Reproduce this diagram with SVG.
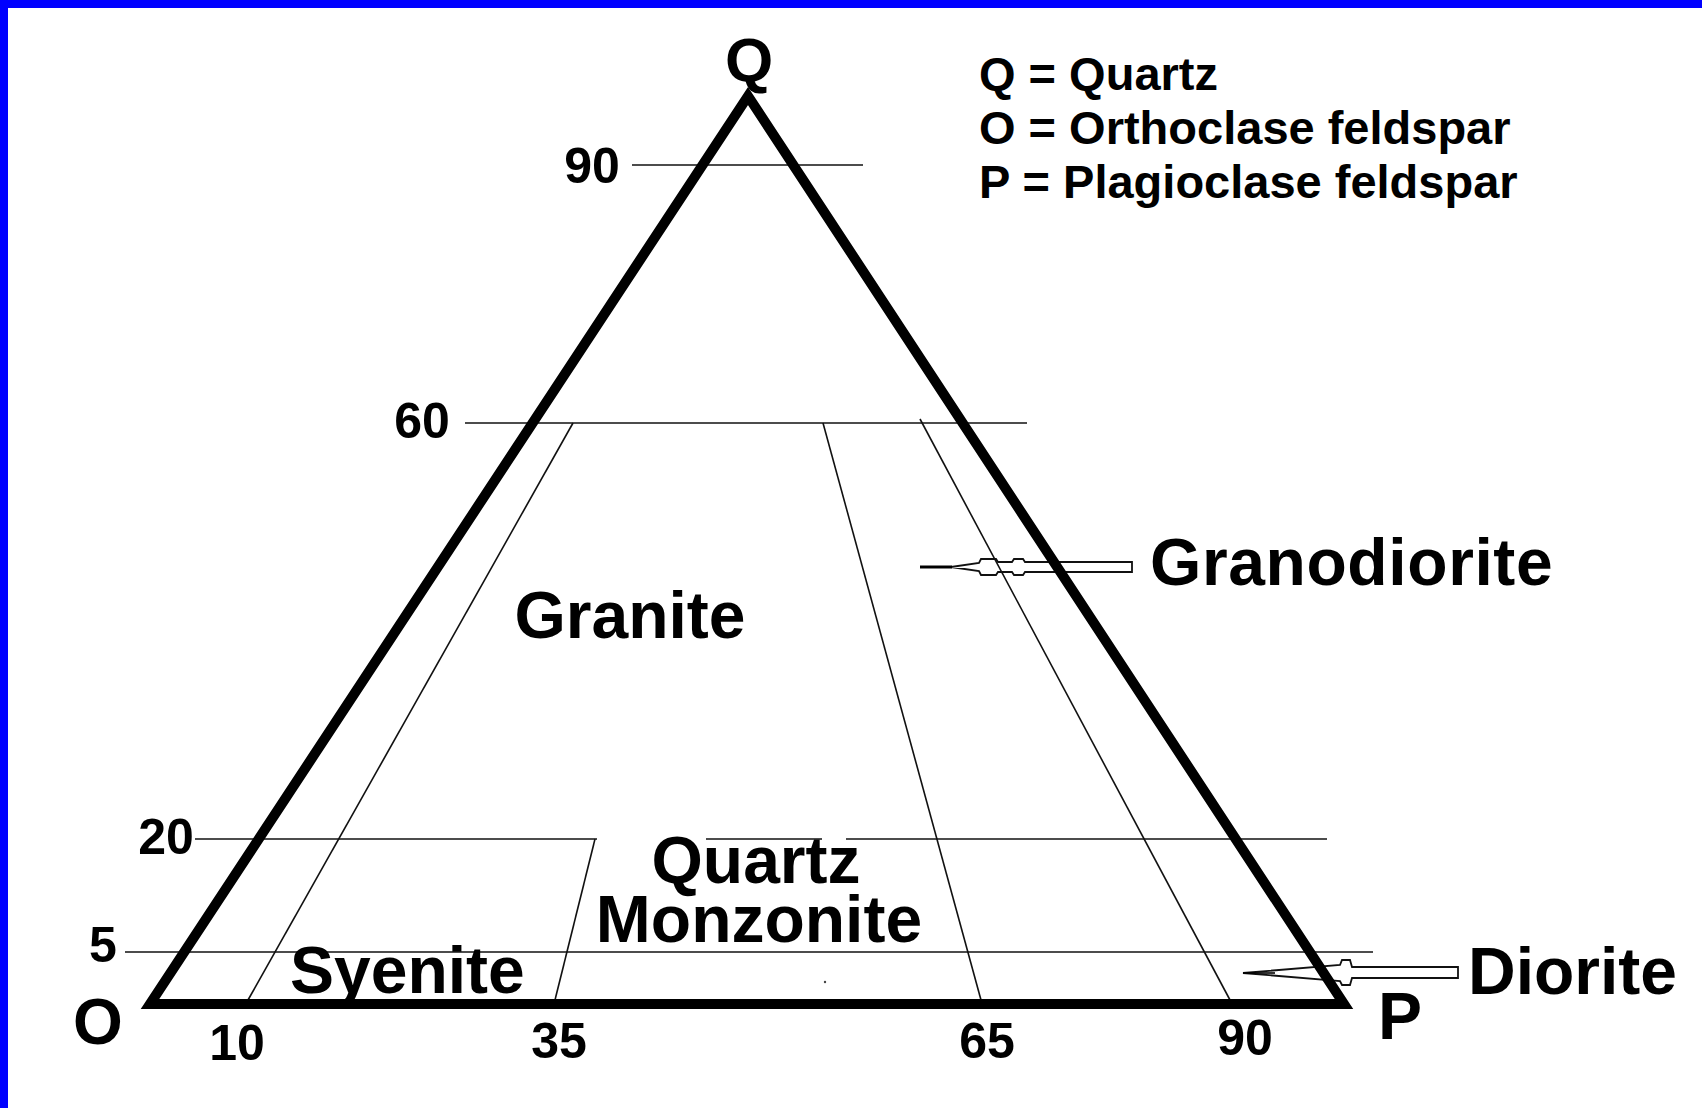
<svg xmlns="http://www.w3.org/2000/svg" width="1702" height="1108" viewBox="0 0 1702 1108">
<style>
.t{font-family:"Liberation Sans",Arial,sans-serif;font-weight:bold;fill:#000}
.num{font-size:50px}
.big{font-size:66px}
.leg{font-size:47px}
.thin{stroke:#111;stroke-width:1.6;fill:none}
.arr{stroke:#111;stroke-width:1.8;fill:#fff;stroke-linejoin:miter}
</style>
<rect x="0" y="0" width="1702" height="1108" fill="#fff"/>
<rect x="0" y="0" width="1702" height="8" fill="#0000ff"/>
<rect x="0" y="0" width="8" height="1108" fill="#0000ff"/>
<g id="connectors">
  <g id="arrows">
    <path class="arr" d="M951,567 L979,563 L981,559 L996,559 L998,562 L1012,562 L1014,559 L1023,559 L1025,562 L1132,562 L1132,572 L1025,572 L1023,575 L1014,575 L1012,572 L998,572 L996,575 L981,575 L979,571 Z"/>
    <line x1="920" y1="567" x2="952" y2="567" stroke="#000" stroke-width="3"/>
    <path class="arr" d="M1243,973 L1340,965 L1342,960 L1350,960 L1352,967 L1458,967 L1458,978 L1352,978 L1350,985 L1342,985 L1340,981 Z"/>
    <line x1="1243" y1="973" x2="1275" y2="973" stroke="#000" stroke-width="1.6"/>
  </g>
  <g id="grid">
    <line class="thin" x1="632" y1="165" x2="863" y2="165"/>
    <line class="thin" x1="465" y1="423" x2="1027" y2="423"/>
    <line class="thin" x1="195" y1="839" x2="597" y2="839"/>
    <line class="thin" x1="706" y1="839" x2="822" y2="839"/>
    <line class="thin" x1="846" y1="839" x2="1327" y2="839"/>
    <line class="thin" x1="125" y1="952" x2="1373" y2="952"/>
    <line class="thin" x1="248" y1="1000" x2="573" y2="423"/>
    <line class="thin" x1="555" y1="1000" x2="595" y2="839"/>
    <line class="thin" x1="981" y1="1000" x2="823" y2="423"/>
    <line class="thin" x1="1230" y1="1000" x2="920" y2="419"/>
  </g>
  <path id="triangle" d="M150,1004 L748,96 L1344,1004 Z" fill="none" stroke="#000" stroke-width="10" stroke-linejoin="miter"/>
  <circle cx="825" cy="982" r="1.2" fill="#444"/>
</g>
<g id="vertex-Q"><text class="t" x="749" y="81" font-size="62" text-anchor="middle">Q</text></g>
<g id="vertex-O"><text class="t" x="98" y="1044" font-size="64" text-anchor="middle">O</text></g>
<g id="vertex-P"><text class="t" x="1378" y="1039" font-size="66">P</text></g>
<g id="legend">
  <text class="t leg" x="979" y="90">Q = Quartz</text>
  <text class="t leg" x="979" y="144">O = Orthoclase feldspar</text>
  <text class="t leg" x="979" y="198">P = Plagioclase feldspar</text>
</g>
<g id="q-scale">
  <text class="t num" x="592" y="183" text-anchor="middle">90</text>
  <text class="t num" x="422" y="438" text-anchor="middle">60</text>
  <text class="t num" x="166" y="854" text-anchor="middle">20</text>
  <text class="t num" x="103" y="962" text-anchor="middle">5</text>
</g>
<g id="p-scale">
  <text class="t num" x="237" y="1060" text-anchor="middle">10</text>
  <text class="t num" x="559" y="1058" text-anchor="middle">35</text>
  <text class="t num" x="987" y="1058" text-anchor="middle">65</text>
  <text class="t num" x="1245" y="1055" text-anchor="middle">90</text>
</g>
<g id="granite"><text class="t big" x="630" y="638" text-anchor="middle">Granite</text></g>
<g id="granodiorite"><text class="t big" x="1150" y="585" letter-spacing="0.6">Granodiorite</text></g>
<g id="quartz-monzonite">
  <text class="t big" x="756" y="883" text-anchor="middle">Quartz</text>
  <text class="t big" x="759" y="942" text-anchor="middle">Monzonite</text>
</g>
<g id="syenite"><text class="t big" x="290" y="993">Syenite</text></g>
<g id="diorite"><text class="t big" x="1468" y="994">Diorite</text></g>
</svg>
